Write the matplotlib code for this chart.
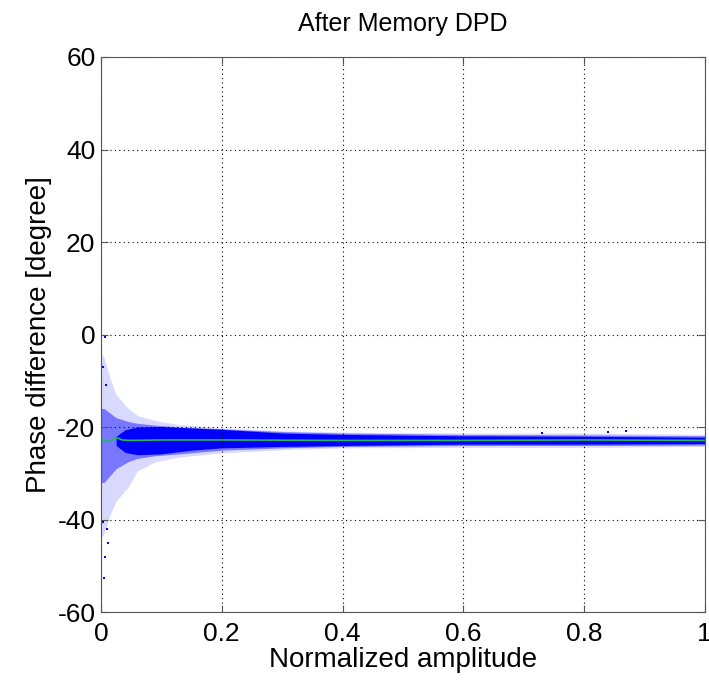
import numpy as np
import matplotlib
matplotlib.use("Agg")
import matplotlib.pyplot as plt

plt.rcParams['font.family'] = ['Liberation Sans', 'DejaVu Sans']
plt.rcParams['axes.unicode_minus'] = False

# envelope of the scatter cloud (degrees)
amp = [0.0, 0.005, 0.015, 0.025, 0.045, 0.06, 0.09, 0.13, 0.2, 0.3, 0.4, 0.6, 0.8, 1.0]
sparse_top = [-4.0, -5.0, -9.5, -13.0, -16.0, -17.5, -18.6, -19.5, -20.2, -20.8, -21.1, -21.3, -21.3, -21.6]
sparse_bot = [-44.0, -43.0, -39.0, -36.0, -33.0, -29.5, -27.5, -26.5, -25.6, -24.9, -24.5, -24.4, -24.4, -24.2]
mid_top = [-16.0, -16.0, -17.0, -18.0, -18.8, -19.2, -19.6, -20.0, -20.4, -21.0, -21.3, -21.6, -21.7, -21.9]
mid_bot = [-32.0, -32.0, -30.5, -29.0, -27.5, -26.8, -26.2, -25.8, -25.0, -24.5, -24.2, -24.0, -24.0, -23.9]

# saturated core of the cloud
core_amp = [0.025, 0.04, 0.06, 0.1, 0.15, 0.2, 0.3, 0.4, 0.6, 0.8, 1.0]
core_top = [-22.0, -20.6, -20.0, -19.9, -20.2, -20.5, -21.3, -21.6, -21.9, -22.0, -22.2]
core_bot = [-24.0, -25.5, -26.0, -25.8, -25.0, -24.5, -24.2, -24.0, -23.7, -23.7, -23.6]

# a few isolated points far from the cloud
out_x = [0.005, 0.007, 0.004, 0.012, 0.01, 0.006, 0.003, 0.009, 0.73, 0.84, 0.87]
out_y = [-52.6, -0.5, -40.5, -45.0, -42.0, -48.0, -7.0, -11.0, -21.2, -21.0, -20.8]

# fitted phase line (green)
fit_x = [0.0, 0.005, 0.013, 0.02, 0.028, 0.035, 0.05, 0.1, 0.2, 0.4, 0.6, 0.8, 1.0]
fit_y = [-22.6, -22.8, -23.2, -22.6, -22.4, -22.8, -22.9, -22.8, -22.8, -22.9, -22.9, -22.8, -22.9]

fig = plt.figure(figsize=(7.09, 6.81), dpi=100)
ax = fig.add_axes([0.1425, 0.1013, 0.8515, 0.8150])

blue = '#0000ff'
ax.fill_between(amp, sparse_bot, sparse_top, color=blue, alpha=0.15, lw=0)
ax.fill_between(amp, mid_bot, mid_top, color=blue, alpha=0.45, lw=0)
ax.fill_between(core_amp, core_bot, core_top, color=blue, lw=0)
ax.plot(out_x, out_y, 's', color=blue, ms=1.5, mew=0)
ax.plot(fit_x, fit_y, color='#22bb55', lw=1.2)

ax.set_xlim(0, 1)
ax.set_ylim(-60, 60)
ax.set_xticks(np.arange(0, 1.01, 0.2))
ax.set_xticklabels(['0', '0.2', '0.4', '0.6', '0.8', '1'])
ax.set_yticks(np.arange(-60, 61, 20))
ax.grid(True, color='black', linestyle=(0, (1, 3)), linewidth=0.8)
ax.tick_params(direction='in', top=True, right=True, labelsize=19, length=5,
               color='#555555')
ax.tick_params(axis='x', pad=7)
ax.tick_params(axis='y', pad=4)
for s in ax.spines.values():
    s.set_color('#555555')
ax.set_xlabel('Normalized amplitude', fontsize=20, labelpad=1)
ax.set_ylabel('Phase difference [degree]', fontsize=20, labelpad=4)
ax.set_title('After Memory DPD', fontsize=18, pad=19)

fig.savefig('out.png', dpi=100)
